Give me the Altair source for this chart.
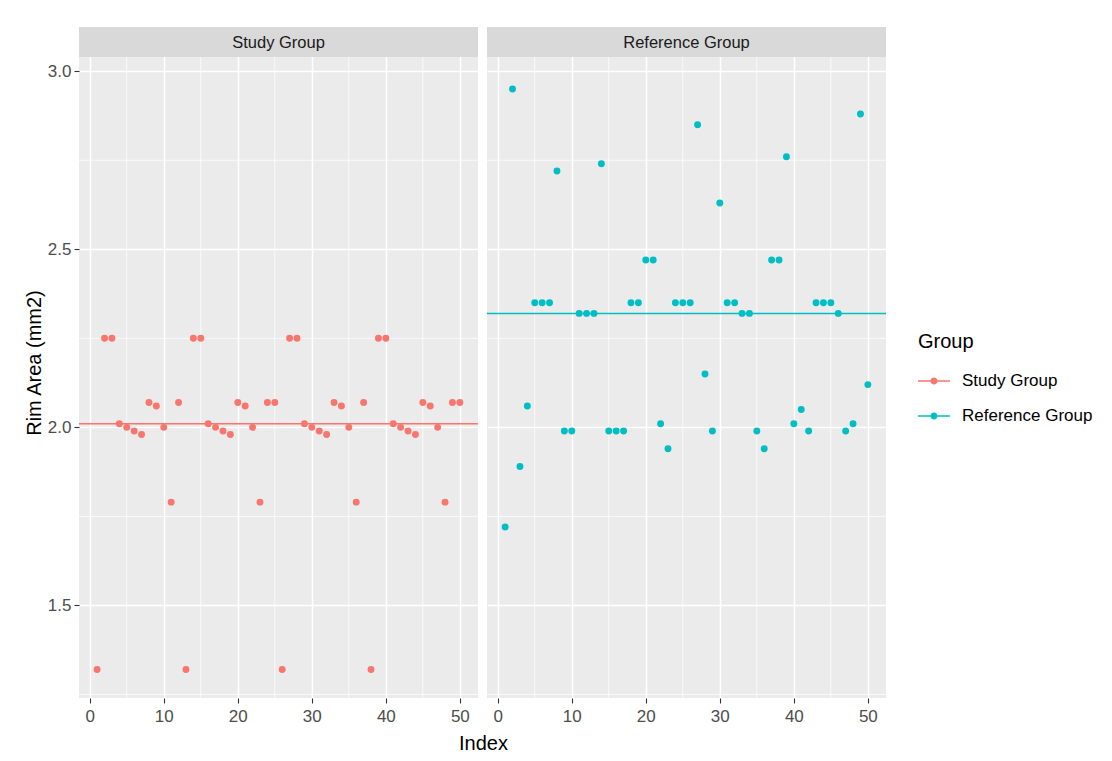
import altair as alt
import pandas as pd

FONT = "Liberation Sans"

index = list(range(1, 51))
study_values = [
    1.32, 2.25, 2.25, 2.01, 2.00, 1.99, 1.98, 2.07, 2.06, 2.00,
    1.79, 2.07, 1.32, 2.25, 2.25, 2.01, 2.00, 1.99, 1.98, 2.07,
    2.06, 2.00, 1.79, 2.07, 2.07, 1.32, 2.25, 2.25, 2.01, 2.00,
    1.99, 1.98, 2.07, 2.06, 2.00, 1.79, 2.07, 1.32, 2.25, 2.25,
    2.01, 2.00, 1.99, 1.98, 2.07, 2.06, 2.00, 1.79, 2.07, 2.07,
]
reference_values = [
    1.72, 2.95, 1.89, 2.06, 2.35, 2.35, 2.35, 2.72, 1.99, 1.99,
    2.32, 2.32, 2.32, 2.74, 1.99, 1.99, 1.99, 2.35, 2.35, 2.47,
    2.47, 2.01, 1.94, 2.35, 2.35, 2.35, 2.85, 2.15, 1.99, 2.63,
    2.35, 2.35, 2.32, 2.32, 1.99, 1.94, 2.47, 2.47, 2.76, 2.01,
    2.05, 1.99, 2.35, 2.35, 2.35, 2.32, 1.99, 2.01, 2.88, 2.12,
]
groups = ["Study Group", "Reference Group"]
group_lines = [2.01, 2.32]
colors = ["#F8766D", "#00BFC4"]
x_major = [0, 10, 20, 30, 40, 50]
x_minor = [5, 15, 25, 35, 45]
y_major = [1.5, 2.0, 2.5, 3.0]
y_minor = [1.25, 1.75, 2.25, 2.75]

df = pd.DataFrame({
    "Index": index * 2,
    "Rim": study_values + reference_values,
    "Group": [groups[0]] * len(study_values) + [groups[1]] * len(reference_values),
})
lines_df = pd.DataFrame({"Group": groups, "Rim": group_lines})
xminor_df = pd.DataFrame({"Index": x_minor})
yminor_df = pd.DataFrame({"Rim": y_minor})

PW, PH, SH = 399, 641, 30
Y_LO, Y_HI = 1.24, 3.04
# the strip sits above the panel, inside the same view
Y_TOP = Y_HI + SH * (Y_HI - Y_LO) / PH
xscale = alt.Scale(domain=[-1.45, 52.45], nice=False, zero=False)
yscale = alt.Scale(domain=[Y_LO, Y_TOP], nice=False, zero=False)

legend_symbol = (
    "M-1,-0.045H1V0.045H-1Z "
    "M0.22,0A0.22,0.22 0 1,1 -0.22,0A0.22,0.22 0 1,1 0.22,0Z"
)

color = alt.Color(
    "Group:N",
    scale=alt.Scale(domain=groups, range=colors),
    legend=alt.Legend(
        title="Group", orient="none", legendX=839, legendY=305,
        symbolType=legend_symbol, symbolSize=1024, symbolStrokeWidth=0,
        labelFontSize=17, titleFontSize=20, labelFont=FONT, titleFont=FONT,
        labelColor="#000000", titleColor="#000000", labelOffset=12,
        rowPadding=11, titlePadding=13, titleFontWeight="normal",
    ),
)


def panel(g, first):
    if first:
        xaxis = alt.Axis(values=x_major, title="Index", titleX=404,
                         titlePadding=9, labelPadding=5)
        yaxis = alt.Axis(values=y_major, title="Rim Area (mm2)", format=".1f")
    else:
        xaxis = alt.Axis(values=x_major, title=None, labelPadding=5)
        yaxis = alt.Axis(values=y_major, title=None, labels=False, ticks=False)
    X = lambda: alt.X("Index:Q", scale=xscale, axis=xaxis)
    Y = lambda: alt.Y("Rim:Q", scale=yscale, axis=yaxis)
    vminor = alt.Chart(xminor_df).mark_rule(color="white", strokeWidth=0.75).encode(x=X())
    hminor = alt.Chart(yminor_df).mark_rule(color="white", strokeWidth=0.75).encode(y=Y())
    mean = alt.Chart(lines_df).transform_filter(
        alt.datum.Group == g
    ).mark_rule(strokeWidth=1.5).encode(y=Y(), color=color)
    pts = alt.Chart(df).transform_filter(
        alt.datum.Group == g
    ).mark_circle(size=48, opacity=1).encode(x=X(), y=Y(), color=color)
    sdf = pd.DataFrame({"Group": [g]})
    strip_bg = alt.Chart(sdf).mark_rect(color="#D9D9D9").encode(
        x=alt.value(0), x2=alt.value(PW), y=alt.value(0), y2=alt.value(SH)
    )
    strip_txt = alt.Chart(sdf).mark_text(
        font=FONT, fontSize=16.5, color="#1A1A1A", baseline="middle", align="center"
    ).encode(text="Group:N", x=alt.value(PW / 2), y=alt.value(SH / 2 + 1))
    return alt.layer(vminor, hminor, mean, pts, strip_bg, strip_txt).properties(
        width=PW, height=PH + SH,
        view=alt.ViewBackground(fill="#EBEBEB", strokeWidth=0),
    )


chart = alt.hconcat(
    panel(groups[0], True), panel(groups[1], False), spacing=9, bounds="flush"
).properties(
    padding={"left": 16, "top": 18, "right": 5, "bottom": 5},
    background="white",
).configure_view(
    strokeWidth=0
).configure_axis(
    domain=False, grid=True, gridColor="white", gridWidth=1.5,
    tickColor="#333333", tickSize=5, tickWidth=1.1,
    labelColor="#4D4D4D", labelFont=FONT, labelFontSize=17, labelPadding=3,
    titleFont=FONT, titleFontSize=20, titleColor="#000000",
    titleFontWeight="normal", titlePadding=3,
)

chart.save("out.html", embed_options={"renderer": "svg", "actions": False})
